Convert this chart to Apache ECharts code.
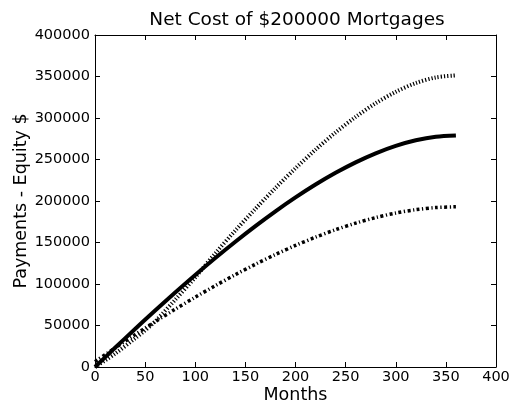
<!DOCTYPE html>
<html>
<head>
<meta charset="utf-8">
<script src="https://cdn.jsdelivr.net/npm/echarts@6/dist/echarts.min.js"></script>
<style>
  html, body { margin: 0; padding: 0; background: #fff; }
  #chart { width: 513px; height: 404px; }
</style>
</head>
<body>
<div id="chart"></div>
<script>
// Months since the loan started
const months = [0, 20, 40, 48, 60, 80, 100, 120, 140, 160, 180, 200, 220, 240, 260, 280, 300, 320, 340, 360];

// Net cost (payments minus equity acquired), in dollars
const fixedRate = [0, 23150, 45860, 54820, 68100, 89800, 110890, 131300, 150950, 169730, 187560, 204300, 219810, 233960, 246570, 257450, 266400, 273170, 277490, 279020];
const twoRate   = [0, 16000, 34500, 42000, 55000, 81000, 108000, 137000, 164500, 190600, 215700, 239500, 261900, 282600, 301300, 317800, 331500, 342100, 348900, 351400];
const withPts   = [6500, 22970, 39010, 45300, 54580, 69630, 84130, 98020, 111260, 123780, 135530, 146430, 156420, 165410, 173310, 180050, 185500, 189560, 192120, 193000];

// Axis ticks
const xTicks = { min: 0, max: 400, step: 50 };
const yTicks = { min: 0, max: 400000, step: 50000 };

const FONT = 'DejaVu Sans';

const pairs = (vals) => months.map((m, i) => [m, vals[i]]);

const frameAxis = (show, margin) => ({
  axisLine: { show: true, onZero: false, lineStyle: { color: '#000', width: 1 } },
  axisTick: { show: true, inside: true, length: 5, lineStyle: { color: '#000', width: 1 } },
  splitLine: { show: false },
  axisLabel: {
    show: show, color: '#000', fontFamily: FONT, fontSize: 14.5, margin: margin || 4,
    formatter: (v) => String(v)
  }
});

const chart = echarts.init(document.getElementById('chart'), null, { renderer: 'canvas' });

chart.setOption({
  animation: false,
  backgroundColor: '#fff',
  title: {
    text: 'Net Cost of $200000 Mortgages',
    left: 292,
    textAlign: 'center',
    top: 6,
    textStyle: { fontFamily: FONT, fontSize: 18.5, fontWeight: 'normal', color: '#000' }
  },
  grid: { left: 95, right: 17, top: 35, bottom: 37, containLabel: false, outerBoundsMode: 'none' },
  xAxis: [
    Object.assign({
      type: 'value', position: 'bottom',
      min: xTicks.min, max: xTicks.max, interval: xTicks.step,
      name: 'Months', nameLocation: 'middle', nameGap: 19, nameMoveOverlap: false,
      nameTextStyle: { fontFamily: FONT, fontSize: 17.5, color: '#000' }
    }, frameAxis(true, 3)),
    Object.assign({
      type: 'value', position: 'top',
      min: xTicks.min, max: xTicks.max, interval: xTicks.step
    }, frameAxis(false))
  ],
  yAxis: [
    Object.assign({
      type: 'value', position: 'left',
      min: yTicks.min, max: yTicks.max, interval: yTicks.step,
      name: 'Payments - Equity $', nameLocation: 'middle', nameGap: 65, nameMoveOverlap: false,
      nameTextStyle: { fontFamily: FONT, fontSize: 17.5, color: '#000' }
    }, frameAxis(true, 5)),
    Object.assign({
      type: 'value', position: 'right',
      min: yTicks.min, max: yTicks.max, interval: yTicks.step
    }, frameAxis(false))
  ],
  series: [
    {
      name: 'Fixed, 7%', type: 'line', data: pairs(fixedRate),
      showSymbol: false, smooth: 0.3,
      lineStyle: { color: '#000', width: 4, type: 'solid' }
    },
    {
      name: 'Two rate', type: 'line', data: pairs(twoRate),
      showSymbol: false, smooth: 0.3,
      lineStyle: { color: '#000', width: 4, type: [1.2, 2], cap: 'butt' }
    },
    {
      name: 'Fixed with points', type: 'line', data: pairs(withPts),
      showSymbol: false, smooth: 0.3,
      lineStyle: { color: '#000', width: 3.5, type: [3, 2.5, 1.2, 2.5], cap: 'butt' }
    }
  ]
});
</script>
</body>
</html>
